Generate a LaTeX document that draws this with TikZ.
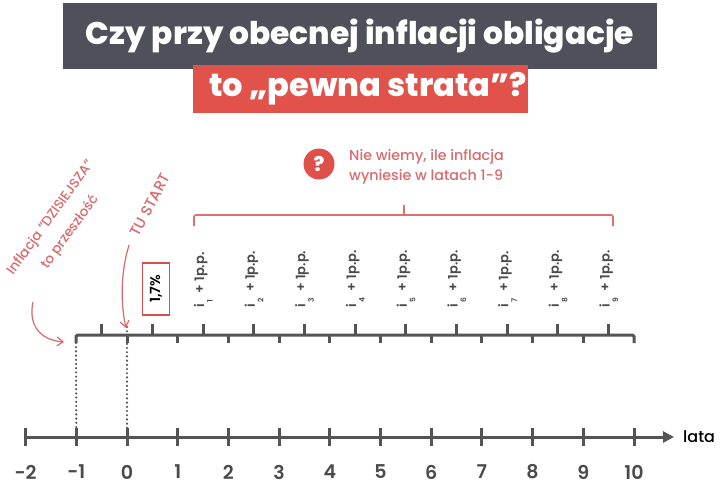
\documentclass[tikz,border=0pt]{standalone}
\usepackage{fontspec}
\setmainfont{Poppins}
\newfontfamily\popmed{Poppins Medium}
\newfontfamily\popsb{Poppins SemiBold}
\newfontfamily\popxb{Poppins ExtraBold}
\usetikzlibrary{arrows.meta}
\definecolor{titlegray}{HTML}{50505B}
\definecolor{titlered}{HTML}{E0524A}
\definecolor{linegray}{HTML}{545454}
\definecolor{textgray}{HTML}{4A4A4A}
\definecolor{annored}{HTML}{D8696C}
\definecolor{brred}{HTML}{D9726E}
\definecolor{boxred}{HTML}{D64E4E}
\definecolor{qred}{HTML}{E0504A}
\begin{document}
\begin{tikzpicture}[x=1pt,y=-1pt,
  every node/.style={inner sep=0pt},
  titlebox/.style={fill=titlegray,minimum width=594pt,minimum height=66pt,text=white,font=\popxb\fontsize{31.3}{34}\selectfont},
  redbox/.style={fill=titlered,minimum width=335pt,minimum height=48pt,text=white,font=\popxb\fontsize{32}{36}\selectfont},
  axisline/.style={draw=linegray,line width=3pt},
  tickline/.style={draw=linegray,line width=3pt},
  dotline/.style={draw=linegray,line width=2.4pt,line cap=round,dash pattern=on 0pt off 4.2pt},
  numlabel/.style={text=textgray,font=\popsb\fontsize{19}{22}\selectfont},
  ilabel/.style={text=textgray,font=\popsb\fontsize{13}{15}\selectfont,rotate=90,anchor=base west},
  annotext/.style={text=annored,font=\popmed\fontsize{13.5}{24}\selectfont,align=center},
  bracket/.style={draw=brred,line width=1.8pt,rounded corners=2pt},
  annoarrow/.style={draw=annored,line width=1.2pt,-{Straight Barb[length=6pt,width=9pt]}},
]
\useasboundingbox (0,0) rectangle (720,500);
% title
\node[titlebox] (t1) at (360,36) {Czy przy obecnej inflacji obligacje};
\node[redbox] (t2) at (360.5,89) {\hspace*{15pt}to „pewna strata”?};
% axis
\coordinate (axL) at (25,437);
\coordinate (axR) at (674,437);
\draw[axisline,-{Triangle[length=11pt,width=11pt]}] (axL) -- (axR);
\node[anchor=west,text=black,font=\popmed\fontsize{16}{18}\selectfont] (lata) at (683,437) {lata};
\foreach \k in {-2,...,10}{
  \coordinate (tk\k) at ({127+50.7*(\k)},437);
  \draw[tickline] ([yshift=-9pt]tk\k) -- ([yshift=9pt]tk\k);
  \node[numlabel] (n\k) at ({127+50.7*(\k)},472) {\k};
}
% upper timeline
\coordinate (uL) at (76,343);
\coordinate (uL2) at (76,335);
\coordinate (uR2) at (634,335);
\coordinate (uR) at (634,343);
\draw[tickline,rounded corners=1.5pt] (uL) -- (uL2) -- (uR2) -- (uR);
\foreach \k in {0,...,9}{
  \coordinate (ud\k) at ({127+50.7*(\k)},335);
  \draw[tickline] (ud\k) -- ++(0,8);
}
\foreach \k in {-1,...,9}{
  \coordinate (uu\k) at ({127+50.7*(\k+0.5)},335);
  \draw[tickline] (uu\k) -- ++(0,-11);
}
% dotted lines
\draw[dotline] (uL) -- ([yshift=9pt]tk-1);
\draw[dotline] ([yshift=8pt]ud0) -- ([yshift=9pt]tk0);
% labels i_k
\foreach \k in {1,...,9}{
  \node[ilabel] (i\k) at ({127+50.7*(\k+0.5)+1},308) {i\kern2pt\raisebox{-8.5pt}{\fontsize{7.5}{7.5}\selectfont\k}\kern3pt{} + 1p.p.};
}
% 1,7% box
\node[draw=boxred,line width=1.8pt,minimum width=52pt,minimum height=27pt,rotate=90,font=\popsb\fontsize{14}{16}\selectfont,text=black] (pct) at (156,289) {1,7\%};
% bracket
\coordinate (bL) at (194,226);
\coordinate (bL2) at (194,215);
\coordinate (bM) at (404,215);
\coordinate (bM2) at (404,205);
\coordinate (bR2) at (613,215);
\coordinate (bR) at (613,226);
\draw[bracket] (bL) -- (bL2) -- (bR2) -- (bR);
\draw[bracket] (bM) -- (bM2);
% question
\node[circle,fill=qred,minimum size=31pt,text=white,font=\popxb\fontsize{20}{20}\selectfont] (q) at (319,164) {?};
\node[anchor=west,text=annored,font=\popmed\fontsize{14.3}{20}\selectfont,align=left] (qt) at (349,167) {Nie wiemy, ile inflacja\\wyniesie w latach 1-9};
% annotations
\node[annotext,rotate=54] (a1) at (60.5,225) {Inflacja “DZISIEJSZA”\\to przeszłość};
\node[annotext,rotate=62,font=\popmed\fontsize{15}{21}\selectfont] (a2) at (150,205) {TU START};
\coordinate (a1s) at (33,302);
\coordinate (a1e) at (64,342);
\coordinate (a2s) at (129,245);
\coordinate (a2e) at (126,328);
\draw[annoarrow] (a1s) .. controls (28,325) and (40,340) .. (a1e);
\draw[annoarrow] (a2s) .. controls (120,275) and (121,305) .. (a2e);
\end{tikzpicture}
\end{document}
